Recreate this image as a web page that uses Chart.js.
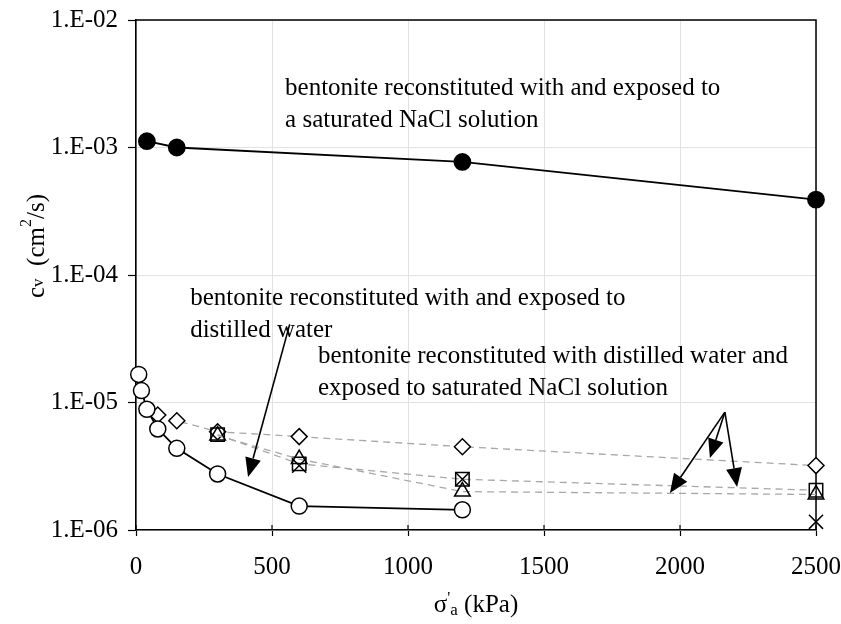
<!DOCTYPE html>
<html>
<head>
<meta charset="utf-8">
<script src="https://cdn.jsdelivr.net/npm/chart.js@4.4.1/dist/chart.umd.min.js"></script>
<style>
  html, body { margin: 0; padding: 0; background: #fff; }
</style>
</head>
<body>
<canvas id="myChart" width="841" height="624"></canvas>
<script>
// Data (sigma'a in kPa, cv in cm2/s)
const saltX = [40, 150, 1200, 2500];
const saltCv = [1.12e-3, 1.0e-3, 7.7e-4, 3.9e-4];

const waterX = [10, 20, 40, 80, 150, 300, 600, 1200];
const waterCv = [1.66e-5, 1.24e-5, 8.85e-6, 6.2e-6, 4.37e-6, 2.75e-6, 1.54e-6, 1.44e-6];

const diamondX = [80, 150, 300, 600, 1200, 2500];
const diamondCv = [7.98e-6, 7.2e-6, 5.9e-6, 5.4e-6, 4.5e-6, 3.2e-6];

const squareX = [300, 600, 1200, 2500];
const squareCv = [5.6e-6, 3.3e-6, 2.5e-6, 2.05e-6];

const triangleX = [300, 600, 1200, 2500];
const triangleCv = [5.5e-6, 3.6e-6, 2.0e-6, 1.9e-6];

const crossX = [600, 1200, 2500];
const crossCv = [3.2e-6, 2.5e-6, 1.16e-6];

const xTicks = [0, 500, 1000, 1500, 2000, 2500];
const yTicks = [1e-6, 1e-5, 1e-4, 1e-3, 1e-2];
const yTickLabels = ['1.E-06', '1.E-05', '1.E-04', '1.E-03', '1.E-02'];

// Notes and arrows, placed in data coordinates
const notes = [
    { text: 'bentonite reconstituted with and exposed to', x: 548, y: 2.93e-3 },
    { text: 'a saturated NaCl solution', x: 548, y: 1.64e-3 },
    { text: 'bentonite reconstituted with and exposed to', x: 199, y: 6.6e-5 },
    { text: 'distilled water', x: 199, y: 3.7e-5 },
    { text: 'bentonite reconstituted with distilled water and', x: 669, y: 2.28e-5 },
    { text: 'exposed to saturated NaCl solution', x: 669, y: 1.28e-5 }
];
const arrows = [
    { from: [565, 4.1e-5], to: [412, 2.61e-6] },
    { from: [2165, 8.4e-6], to: [1963, 1.95e-6] },
    { from: [2165, 8.4e-6], to: [2110, 3.67e-6] },
    { from: [2165, 8.4e-6], to: [2210, 2.17e-6] }
];

const SERIF = 'Liberation Serif';
const FONT_SIZE = 25;

function toPoints(xs, ys) {
    return xs.map((x, i) => ({ x: x, y: ys[i] }));
}

function drawArrow(ctx, x1, y1, x2, y2) {
    const ang = Math.atan2(y2 - y1, x2 - x1);
    const len = 19, half = 8;
    const bx = x2 - Math.cos(ang) * len, by = y2 - Math.sin(ang) * len;
    ctx.beginPath();
    ctx.moveTo(x1, y1);
    ctx.lineTo(bx, by);
    ctx.stroke();
    ctx.beginPath();
    ctx.moveTo(x2, y2);
    ctx.lineTo(bx + Math.sin(ang) * half, by - Math.cos(ang) * half);
    ctx.lineTo(bx - Math.sin(ang) * half, by + Math.cos(ang) * half);
    ctx.closePath();
    ctx.fill();
}

const extras = {
    id: 'extras',
    beforeDatasetsDraw(chart) {
        const ctx = chart.ctx, a = chart.chartArea, xs = chart.scales.x;
        ctx.save();
        ctx.strokeStyle = '#000';
        ctx.lineWidth = 1.5;
        ctx.beginPath();
        ctx.moveTo(a.left, a.top);
        ctx.lineTo(a.right, a.top);
        ctx.lineTo(a.right, a.bottom);
        ctx.stroke();
        // x ticks also reach a little into the plot
        ctx.lineWidth = 1.2;
        xTicks.forEach(v => {
            const px = xs.getPixelForValue(v);
            ctx.beginPath();
            ctx.moveTo(px, a.bottom);
            ctx.lineTo(px, a.bottom - 5);
            ctx.stroke();
        });
        ctx.restore();
    },
    afterDraw(chart) {
        const ctx = chart.ctx, xs = chart.scales.x, ys = chart.scales.y, a = chart.chartArea;
        ctx.save();
        ctx.fillStyle = '#000';
        ctx.strokeStyle = '#000';
        ctx.font = FONT_SIZE + 'px "' + SERIF + '"';
        ctx.textBaseline = 'middle';
        ctx.textAlign = 'left';
        notes.forEach(n => ctx.fillText(n.text, xs.getPixelForValue(n.x), ys.getPixelForValue(n.y)));

        ctx.lineWidth = 1.6;
        arrows.forEach(ar => drawArrow(ctx,
            xs.getPixelForValue(ar.from[0]), ys.getPixelForValue(ar.from[1]),
            xs.getPixelForValue(ar.to[0]), ys.getPixelForValue(ar.to[1])));

        // y axis title: c_v  (cm^2/s)
        const big = FONT_SIZE + 'px "' + SERIF + '"';
        const small = '17px "' + SERIF + '"';
        const sup = '16px "' + SERIF + '"';
        const parts = [
            { t: 'c', f: big, dy: 0 },
            { t: 'v', f: small, dy: 2 },
            { t: '  (cm', f: big, dy: 0 },
            { t: '2', f: sup, dy: -10 },
            { t: '/s)', f: big, dy: 0 }
        ];
        let total = 0;
        parts.forEach(p => { ctx.font = p.f; p.w = ctx.measureText(p.t).width; total += p.w; });
        ctx.translate(37, 246);
        ctx.rotate(-Math.PI / 2);
        let cx = -total / 2;
        parts.forEach(p => { ctx.font = p.f; ctx.fillText(p.t, cx, p.dy); cx += p.w; });
        ctx.setTransform(1, 0, 0, 1, 0, 0);

        // x axis title: sigma'_a (kPa)
        const xparts = [
            { t: '\u03c3', f: big, dy: 0 },
            { t: '\'', f: small, dy: -6 },
            { t: 'a', f: small, dy: 6 },
            { t: ' (kPa)', f: big, dy: 0 }
        ];
        total = 0;
        xparts.forEach(p => { ctx.font = p.f; p.w = ctx.measureText(p.t).width; total += p.w; });
        let tx = (a.left + a.right) / 2 - total / 2;
        xparts.forEach(p => { ctx.font = p.f; ctx.fillText(p.t, tx, 605 + p.dy); tx += p.w; });
        ctx.restore();
    }
};

const ctx = document.getElementById('myChart').getContext('2d');
const myChart = new Chart(ctx, {
    type: 'scatter',
    data: {
        datasets: [
            {
                label: 'NaCl',
                data: toPoints(saltX, saltCv),
                showLine: true,
                borderColor: '#000',
                borderWidth: 1.8,
                pointStyle: 'circle',
                pointRadius: 8,
                pointBackgroundColor: '#000',
                pointBorderColor: '#000',
                clip: false
            },
            {
                label: 'distilled',
                data: toPoints(waterX, waterCv),
                showLine: true,
                borderColor: '#000',
                borderWidth: 1.8,
                pointStyle: 'circle',
                pointRadius: 8,
                pointBorderWidth: 1.5,
                pointBackgroundColor: '#fff',
                pointBorderColor: '#000',
                clip: false
            },
            {
                label: 'cross',
                data: toPoints(crossX, crossCv),
                showLine: false,
                pointStyle: 'crossRot',
                pointRadius: 10,
                pointBorderWidth: 1.5,
                pointBorderColor: '#000',
                clip: false
            },
            {
                label: 'triangle',
                data: toPoints(triangleX, triangleCv),
                showLine: true,
                borderColor: '#a8a8a8',
                borderWidth: 1.3,
                borderDash: [7, 5],
                pointStyle: 'triangle',
                pointRadius: 9,
                pointBorderWidth: 1.5,
                pointBackgroundColor: 'rgba(255,255,255,0)',
                pointBorderColor: '#000',
                clip: false
            },
            {
                label: 'square',
                data: toPoints(squareX, squareCv),
                showLine: true,
                borderColor: '#a8a8a8',
                borderWidth: 1.3,
                borderDash: [7, 5],
                pointStyle: 'rect',
                pointRadius: 9.5,
                pointBorderWidth: 1.5,
                pointBackgroundColor: 'rgba(255,255,255,0)',
                pointBorderColor: '#000',
                clip: false
            },
            {
                label: 'diamond',
                data: toPoints(diamondX, diamondCv),
                showLine: true,
                borderColor: '#a8a8a8',
                borderWidth: 1.3,
                borderDash: [7, 5],
                pointStyle: 'rectRot',
                pointRadius: 8,
                pointBorderWidth: 1.5,
                pointBackgroundColor: '#fff',
                pointBorderColor: '#000',
                clip: false
            }
        ]
    },
    plugins: [extras],
    options: {
        responsive: false,
        animation: false,
        layout: { padding: { top: 20, right: 25, left: 0, bottom: 0 } },
        plugins: {
            legend: { display: false },
            tooltip: { enabled: false }
        },
        scales: {
            x: {
                type: 'linear',
                min: 0,
                max: 2500,
                afterBuildTicks: (scale) => { scale.ticks = xTicks.map(v => ({ value: v })); },
                afterFit: (scale) => {
                    scale.height = 94;
                    scale.paddingLeft = 0;
                    scale.paddingRight = 0;
                },
                ticks: {
                    color: '#000',
                    font: { family: SERIF, size: FONT_SIZE },
                    padding: 16,
                    maxRotation: 0,
                    callback: (value) => String(value)
                },
                grid: { color: '#e2e2e2', tickColor: '#000', tickLength: 6, lineWidth: 1, tickWidth: 1.2 },
                border: { color: '#000', width: 1.6 }
            },
            y: {
                type: 'logarithmic',
                min: 1e-6,
                max: 1e-2,
                afterBuildTicks: (scale) => { scale.ticks = yTicks.map(v => ({ value: v })); },
                afterFit: (scale) => {
                    scale.width = 136;
                    scale.paddingTop = 0;
                    scale.paddingBottom = 0;
                },
                ticks: {
                    color: '#000',
                    font: { family: SERIF, size: FONT_SIZE },
                    padding: 10,
                    callback: (value, index) => yTickLabels[index]
                },
                grid: { color: '#e2e2e2', tickColor: '#000', tickLength: 8, lineWidth: 1, tickWidth: 1.2 },
                border: { color: '#000', width: 1.6 }
            }
        }
    }
});
</script>
</body>
</html>
